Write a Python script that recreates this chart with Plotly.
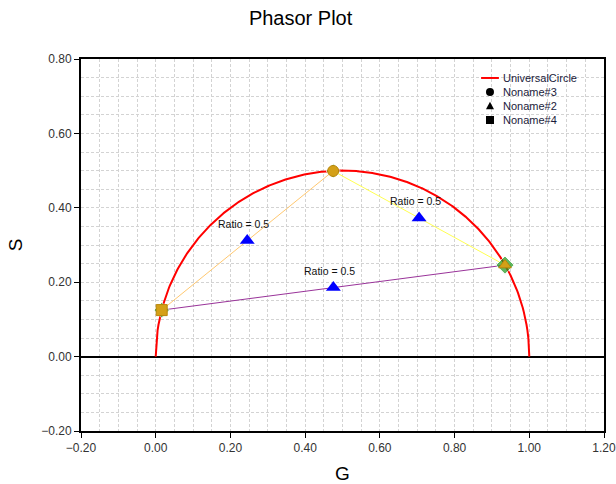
import numpy as np
import plotly.graph_objects as go

# Phasor points (G, S)
noname3_g = [0.475]   # circle
noname3_s = [0.499]
noname2_g = [0.935]   # triangle
noname2_s = [0.246]
noname4_g = [0.016]   # square
noname4_s = [0.125]

# Ratio (midpoint) markers
ratio_g = [0.245, 0.705, 0.4755]
ratio_s = [0.312, 0.3725, 0.1855]
ratio_labels = ["Ratio = 0.5", "Ratio = 0.5", "Ratio = 0.5"]

# Connecting segments (from, to)
seg_orange = ([0.016, 0.475], [0.125, 0.499])
seg_yellow = ([0.475, 0.935], [0.499, 0.246])
seg_purple = ([0.016, 0.935], [0.125, 0.246])

# Universal circle: S^2 + (G - 0.5)^2 = 0.25, upper half
circle_g = np.linspace(0.0, 1.0, 401)
circle_s = np.sqrt(np.clip(0.25 - (circle_g - 0.5) ** 2, 0, None))

xticks = [-0.2, 0.0, 0.2, 0.4, 0.6, 0.8, 1.0, 1.2]
yticks = [-0.2, 0.0, 0.2, 0.4, 0.6, 0.8]

legend_names = ["UniversalCircle", "Noname#3", "Noname#2", "Noname#4"]

fig = go.Figure()

fig.add_trace(go.Scatter(x=seg_orange[0], y=seg_orange[1], mode="lines",
                         line=dict(color="#FFC870", width=1), showlegend=False))
fig.add_trace(go.Scatter(x=seg_yellow[0], y=seg_yellow[1], mode="lines",
                         line=dict(color="#FFFF50", width=1), showlegend=False))
fig.add_trace(go.Scatter(x=seg_purple[0], y=seg_purple[1], mode="lines",
                         line=dict(color="#993399", width=1), showlegend=False))

fig.add_trace(go.Scatter(x=circle_g, y=circle_s, mode="lines", name=legend_names[0],
                         line=dict(color="#FF0000", width=2), showlegend=False))

# green diamonds behind endpoints
fig.add_trace(go.Scatter(x=noname3_g + noname2_g + noname4_g,
                         y=noname3_s + noname2_s + noname4_s,
                         mode="markers", showlegend=False,
                         marker=dict(symbol="diamond", color="#1E9A1E", size=[11, 14, 12])))

fig.add_trace(go.Scatter(x=noname3_g, y=noname3_s, mode="markers", showlegend=False,
                         name=legend_names[1],
                         marker=dict(symbol="circle", color="#D4A017", size=11,
                                     line=dict(color="#B8860B", width=1))))
fig.add_trace(go.Scatter(x=noname2_g, y=noname2_s, mode="markers", showlegend=False,
                         name=legend_names[2],
                         marker=dict(symbol="triangle-up", color="#D4A017", size=11,
                                     line=dict(color="#B8860B", width=1))))
fig.add_trace(go.Scatter(x=noname4_g, y=noname4_s, mode="markers", showlegend=False,
                         name=legend_names[3],
                         marker=dict(symbol="square", color="#D4A017", size=11,
                                     line=dict(color="#B8860B", width=1))))

fig.add_trace(go.Scatter(x=ratio_g, y=ratio_s, mode="markers", showlegend=False,
                         marker=dict(symbol="triangle-up", color="#0000FF", size=13)))

for g, s, t in zip(ratio_g, ratio_s, ratio_labels):
    fig.add_annotation(x=g, y=s, text=t, showarrow=False, yshift=17, xshift=-4,
                       font=dict(size=10.5, color="#111111"))

# Manual compact legend (paper coordinates)
lx_sym = 0.782
lx_txt = 0.804
ly = [0.949, 0.911, 0.874, 0.836]
fig.add_shape(type="line", xref="paper", yref="paper", x0=0.765, x1=0.799, y0=ly[0], y1=ly[0],
              line=dict(color="#FF0000", width=2))
fig.add_shape(type="circle", xref="paper", yref="paper", xsizemode="pixel", ysizemode="pixel",
              xanchor=lx_sym, yanchor=ly[1], x0=-4, x1=4, y0=-4, y1=4,
              fillcolor="black", line=dict(width=0))
fig.add_shape(type="path", xref="paper", yref="paper", xsizemode="pixel", ysizemode="pixel",
              xanchor=lx_sym, yanchor=ly[2], path="M -4,-3.5 L 4,-3.5 L 0,4 Z",
              fillcolor="black", line=dict(width=0))
fig.add_shape(type="rect", xref="paper", yref="paper", xsizemode="pixel", ysizemode="pixel",
              xanchor=lx_sym, yanchor=ly[3], x0=-4, x1=4, y0=-4, y1=4,
              fillcolor="black", line=dict(width=0))
for name, yy in zip(legend_names, ly):
    fig.add_annotation(xref="paper", yref="paper", x=lx_txt, y=yy, text=name,
                       showarrow=False, xanchor="left", yanchor="middle",
                       font=dict(size=11, color="#1A1A3A"))

dash = "3px,2px"
axis_common = dict(
    showline=True, linecolor="black", linewidth=2, mirror=True,
    ticks="outside", ticklen=5, tickcolor="black", tickwidth=1,
    showgrid=True, gridcolor="#D3D3D3", griddash=dash, gridwidth=1,
    minor=dict(dtick=0.05, showgrid=True, gridcolor="#D3D3D3", griddash=dash, gridwidth=1),
    tickfont=dict(size=12, color="#333333"),
    tickformat=".2f", automargin=False, ticklabeloverflow="allow",
)

fig.update_xaxes(range=[-0.2, 1.2], tickvals=xticks, zeroline=False,
                 title=dict(text="G", font=dict(size=19, color="black"), standoff=16),
                 **axis_common)
fig.update_yaxes(range=[-0.2, 0.8], tickvals=yticks, zeroline=True,
                 zerolinecolor="black", zerolinewidth=2,
                 title=dict(text="S", font=dict(size=19, color="black"), standoff=14),
                 **axis_common)

fig.update_layout(
    width=616, height=484,
    margin=dict(l=81, r=12, t=59, b=53),
    paper_bgcolor="white", plot_bgcolor="white",
    font=dict(family="Liberation Sans, Arial, sans-serif"),
    title=dict(text="Phasor Plot", x=0.488, xanchor="center", y=0.962, yanchor="middle",
               font=dict(size=20, color="black")),
    showlegend=False,
)

fig.write_html("out.html", config={"displayModeBar": False},
               post_script="document.body.style.margin='0';document.body.style.overflow='hidden';")
